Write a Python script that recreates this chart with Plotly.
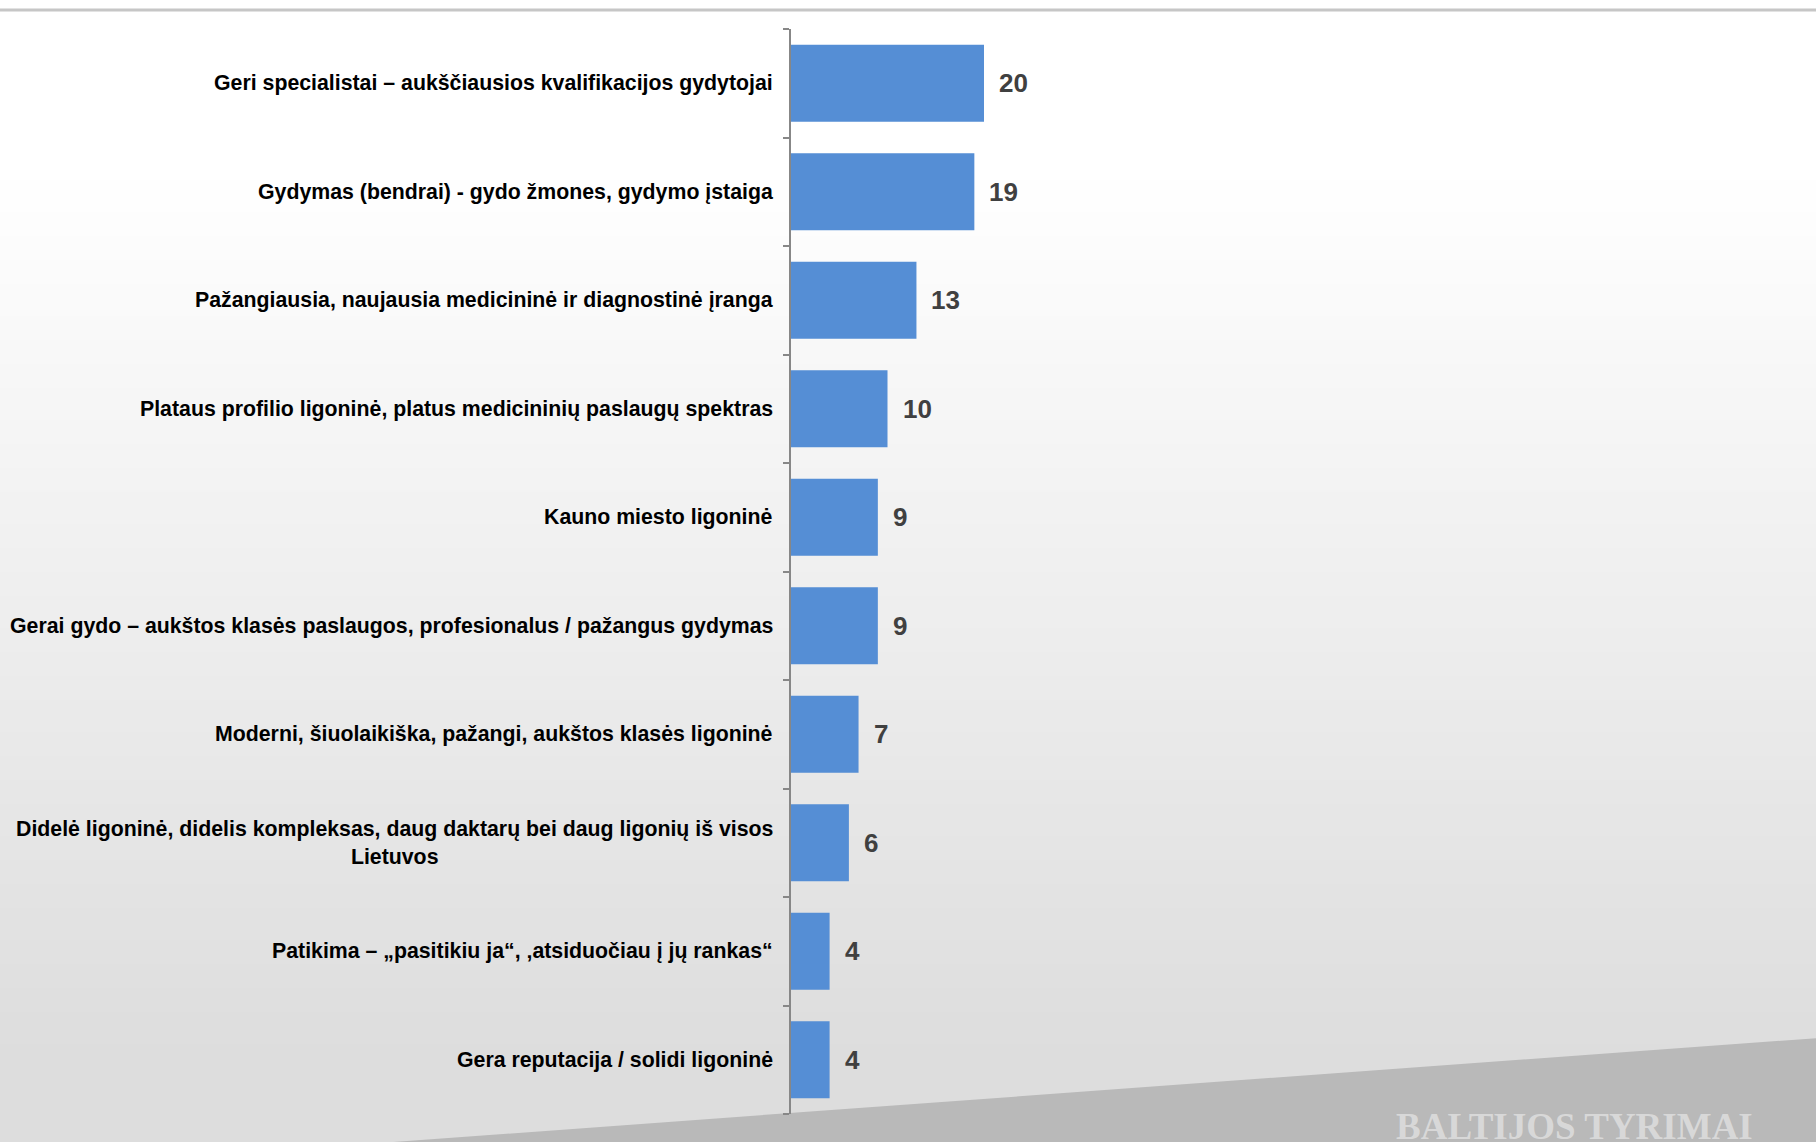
import plotly.graph_objects as go

categories = [
    "Geri specialistai – aukščiausios kvalifikacijos gydytojai",
    "Gydymas (bendrai) - gydo žmones, gydymo įstaiga",
    "Pažangiausia, naujausia medicininė ir diagnostinė įranga",
    "Plataus profilio ligoninė, platus medicininių paslaugų spektras",
    "Kauno miesto ligoninė",
    "Gerai gydo – aukštos klasės paslaugos, profesionalus / pažangus gydymas",
    "Moderni, šiuolaikiška, pažangi, aukštos klasės ligoninė",
    "Didelė ligoninė, didelis kompleksas, daug daktarų bei daug ligonių iš visos<br>Lietuvos",
    "Patikima – „pasitikiu ja“, ‚atsiduočiau į jų rankas“",
    "Gera reputacija / solidi ligoninė",
]
values = [20, 19, 13, 10, 9, 9, 7, 6, 4, 4]
watermark = "BALTIJOS TYRIMAI"

W, H = 1816, 1142
L, R, T, B = 791, 60, 29, 28
PW, PH = W - L - R, H - T - B


def px(x):
    return (x - L) / PW


def py(y):
    return (H - B - y) / PH


positions = list(range(len(categories)))
boundaries = [p - 0.5 for p in positions] + [positions[-1] + 0.5]

fig = go.Figure()
fig.add_trace(go.Bar(
    x=values, y=positions, orientation="h",
    marker=dict(color="#558ed5", line=dict(width=0)),
    width=0.71, hoverinfo="skip",
))

shapes = []
# gradient background
y0 = 12
step = 8
while y0 < H:
    mid = y0 + step / 2
    v = 255 - max(0.0, (mid - 170)) * 0.0385
    v = int(round(max(221, min(255, v))))
    shapes.append(dict(type="rect", xref="paper", yref="paper",
                       x0=px(-2), x1=px(W + 2), y0=py(y0 + step + 1), y1=py(y0),
                       fillcolor=f"rgb({v},{v},{v})", line=dict(width=0),
                       layer="below"))
    y0 += step
# top line
shapes.append(dict(type="line", xref="paper", yref="paper",
                   x0=px(-2), x1=px(W + 2), y0=py(10), y1=py(10),
                   line=dict(color="#c6c6c6", width=3), layer="below"))
# bottom wedge
shapes.append(dict(type="path", xref="paper", yref="paper",
                   path=f"M {px(366)} {py(H+2)} L {px(W+2)} {py(1038)} L {px(W+2)} {py(H+2)} Z",
                   fillcolor="#b9b9b9", line=dict(width=0), layer="below"))

annotations = []
for i, (c, v) in enumerate(zip(categories, values)):
    annotations.append(dict(
        x=0, y=i, xref="x", yref="y", text=f"<b>{c}</b>", showarrow=False,
        xanchor="right", yanchor="middle", xshift=-16,
        align="center" if "<br>" in c else "right",
        font=dict(family="Liberation Sans, Arial", size=21.3, color="#000000"),
    ))
    annotations.append(dict(
        x=v, y=i, xref="x", yref="y", text=f"<b>{v}</b>", showarrow=False,
        xanchor="left", yanchor="middle", xshift=13,
        font=dict(family="Liberation Sans, Arial", size=26, color="#404040"),
    ))
annotations.append(dict(
    x=px(1574), y=py(1104), xref="paper", yref="paper", text=f"<b>{watermark}</b>",
    showarrow=False, xanchor="center", yanchor="top",
    font=dict(family="Liberation Serif, Times New Roman", size=37, color="#d8d8d8"),
))

fig.update_layout(
    width=W, height=H,
    margin=dict(l=L, r=R, t=T, b=B, pad=0),
    paper_bgcolor="#ffffff", plot_bgcolor="rgba(0,0,0,0)",
    showlegend=False,
    shapes=shapes, annotations=annotations,
    font=dict(family="Liberation Sans, Arial", size=21, color="#000000"),
    xaxis=dict(visible=False, range=[0, 100], fixedrange=True),
    yaxis=dict(
        range=[9.5, -0.5], showticklabels=False, showgrid=False, zeroline=False,
        showline=True, linecolor="#878787", linewidth=2,
        ticks="outside", ticklen=6, tickwidth=1.5,
        tickcolor="#878787", tickmode="array",
        tickvals=boundaries,
    ),
)
fig.write_html(
    "out.html",
    config={"displayModeBar": False},
    post_script="document.body.style.margin='0';document.body.style.overflow='hidden';",
)
